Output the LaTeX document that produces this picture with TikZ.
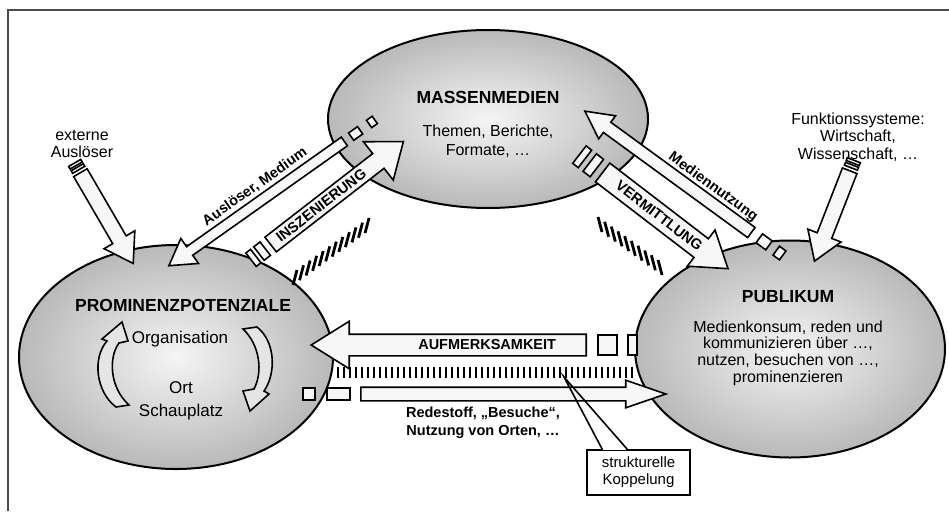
\documentclass[tikz,border=0pt]{standalone}
\usepackage{fontspec}
\setmainfont{Liberation Sans}
\usetikzlibrary{shapes}
\usetikzlibrary{calc}

\begin{document}
\begin{tikzpicture}[x=1pt,y=1pt,
	blob/.style={ellipse,draw,line width=2pt,inner color=gray!8,outer color=gray!55},
	blockarrow/.style={single arrow,draw,line width=1.6pt,fill=gray!6,inner xsep=0pt,anchor=tail},
	tailbox/.style={rectangle,draw,line width=1.6pt,fill=gray!6,inner sep=0pt},
	hatch/.style={line width=2.8pt},
	titletext/.style={font=\bfseries\fontsize{17.5}{20}\selectfont},
	bodytext/.style={font=\fontsize{16}{17.5}\selectfont,align=center},
	arrowtext/.style={font=\bfseries\fontsize{14.5}{18}\selectfont,inner sep=1pt}
	]
	\useasboundingbox (0,0) rectangle (949,-511);
	\draw[gray!60!black,line width=1.5pt] (8,-511) -- (8,-10) -- (949,-10);
	
	\node[blob,minimum width=320pt,minimum height=178pt] (medien) at (488,-119) {};
	\node[blob,minimum width=314pt,minimum height=224pt] (prom) at (176,-357) {};
	\node[blob,minimum width=310pt,minimum height=217pt] (publ) at (790,-349) {};
	
	\foreach \i in {0,...,49} \draw[hatch] (338+6*\i,-367) -- ++(0,-11);
	\foreach \i in {0,...,11} \draw[hatch] (293+6.55*\i,-285+4.73*\i) -- ++(4,15);
	\foreach \i in {0,...,9} \draw[hatch] (598+6.67*\i,-217-4.78*\i) -- ++(4,-15);
	
	\node[blockarrow,rotate=215.3,minimum height=215pt,inner ysep=4.5pt,single arrow head extend=10pt,single arrow tip angle=62] (aus) at (345,-141) {};
	\node[blockarrow,rotate=37.8,minimum height=168pt,inner ysep=8.5pt,single arrow head extend=15pt,single arrow tip angle=75] (insz) at (270,-245) {};
	\node[blockarrow,rotate=-37.5,minimum height=158pt,inner ysep=11pt,single arrow head extend=11pt,single arrow tip angle=68] (verm) at (602,-172) {};
	\node[blockarrow,rotate=143.9,minimum height=206pt,inner ysep=5.5pt,single arrow head extend=8pt,single arrow tip angle=55] (medn) at (752,-233) {};
	\node[blockarrow,rotate=180,minimum height=275pt,inner ysep=10pt,single arrow head extend=13pt,single arrow tip angle=64] (aufm) at (587,-345) {};
	\node[blockarrow,rotate=0,minimum height=305pt,inner ysep=6pt,single arrow head extend=7pt,single arrow tip angle=38] (rede) at (360,-394) {};
	\node[blockarrow,rotate=-59.8,minimum height=105pt,inner ysep=7pt,single arrow head extend=10pt,single arrow tip angle=66] (ext1) at (80,-172) {};
	\node[blockarrow,rotate=248.7,minimum height=97pt,inner ysep=7pt,single arrow head extend=10pt,single arrow tip angle=66] (ext2) at (850,-170) {};
	
	\node[tailbox,rotate=215.3,minimum width=11pt,minimum height=9pt] (aus1) at ($(aus.tail)!-13pt!(aus.tip)$) {};
	\node[tailbox,rotate=215.3,minimum width=7pt,minimum height=9pt] (aus2) at ($(aus.tail)!-33pt!(aus.tip)$) {};
	\node[tailbox,rotate=37.8,minimum width=8pt,minimum height=17pt] (insz1) at ($(insz.tail)!-10pt!(insz.tip)$) {};
	\node[tailbox,rotate=37.8,minimum width=6pt,minimum height=17pt] (insz2) at ($(insz.tail)!-21pt!(insz.tip)$) {};
	\node[tailbox,rotate=-37.5,minimum width=9pt,minimum height=22pt] (verm1) at ($(verm.tail)!-11pt!(verm.tip)$) {};
	\node[tailbox,rotate=-37.5,minimum width=7pt,minimum height=22pt] (verm2) at ($(verm.tail)!-25pt!(verm.tip)$) {};
	\node[tailbox,rotate=143.9,minimum width=12pt,minimum height=11pt] (medn1) at ($(medn.tail)!-15pt!(medn.tip)$) {};
	\node[tailbox,rotate=143.9,minimum width=8pt,minimum height=11pt] (medn2) at ($(medn.tail)!-34pt!(medn.tip)$) {};
	\node[tailbox,minimum width=19pt,minimum height=20pt] (aufm1) at ($(aufm.tail)!-20.5pt!(aufm.tip)$) {};
	\node[tailbox,minimum width=9pt,minimum height=20pt] (aufm2) at ($(aufm.tail)!-45.5pt!(aufm.tip)$) {};
	\node[tailbox,minimum width=23pt,minimum height=12pt] (rede1) at ($(rede.tail)!-21.5pt!(rede.tip)$) {};
	\node[tailbox,minimum width=12pt,minimum height=12pt] (rede2) at ($(rede.tail)!-51pt!(rede.tip)$) {};
	\node[tailbox,rotate=-59.8,minimum width=3pt,minimum height=14pt] (ext1a) at ($(ext1.tail)!-4pt!(ext1.tip)$) {};
	\node[tailbox,rotate=-59.8,minimum width=3pt,minimum height=14pt] (ext1b) at ($(ext1.tail)!-9pt!(ext1.tip)$) {};
	\node[tailbox,rotate=248.7,minimum width=3pt,minimum height=14pt] (ext2a) at ($(ext2.tail)!-4pt!(ext2.tip)$) {};
	\node[tailbox,rotate=248.7,minimum width=3pt,minimum height=14pt] (ext2b) at ($(ext2.tail)!-9pt!(ext2.tip)$) {};
	
	\coordinate (ausm) at ($(aus.tail)!0.46!(aus.tip)$);
	\coordinate (mednm) at ($(medn.tail)!0.28!(medn.tip)$);
	\node[arrowtext,rotate=35.3,anchor=south] (auslab) at ($(ausm)!7pt!-90:(aus.tip)$) {Auslöser, Medium};
	\node[arrowtext,rotate=-36.1,anchor=south] (mednlab) at ($(mednm)!6pt!-90:(medn.tip)$) {Mediennutzung};
	\node[arrowtext,rotate=37.8] (inszlab) at ($(insz.tail)!0.38!(insz.tip)$) {INSZENIERUNG};
	\node[arrowtext,rotate=-37.5] (vermlab) at ($(verm.tail)!0.45!(verm.tip)$) {VERMITTLUNG};
	\node[arrowtext] (aufmlab) at ($(aufm.tail)!0.36!(aufm.tip)$) {AUFMERKSAMKEIT};
	\node[arrowtext,align=center] (redelab) at (483,-423) {Redestoff, „Besuche“,\\Nutzung von Orten, …};
	
	\node[titletext] (medientitel) at (488,-97) {MASSENMEDIEN};
	\node[bodytext,font=\fontsize{16}{18.5}\selectfont] (medientext) at (488,-141) {Themen, Berichte,\\Formate, …};
	\node[titletext] (promtitel) at (183,-305) {PROMINENZPOTENZIALE};
	\node[bodytext,font=\fontsize{17}{19}\selectfont] (organ) at (180,-339) {Organisation};
	\node[bodytext,font=\fontsize{17}{23}\selectfont] (ort) at (181,-401) {Ort\\Schauplatz};
	\node[titletext] (publtitel) at (788,-297) {PUBLIKUM};
	\node[bodytext,font=\fontsize{16}{16.7}\selectfont] (publtext) at (788,-353) {Medienkonsum, reden und\\kommunizieren über …,\\nutzen, besuchen von …,\\prominenzieren};
	\node[bodytext] (extern) at (82,-144) {externe\\Auslöser};
	\node[bodytext] (funkt) at (858,-137) {Funktionssysteme:\\Wirtschaft,\\Wissenschaft, …};
	
	\filldraw[line width=1.6pt,fill=gray!20] (116,-407) .. controls (96,-392) and (92,-358) .. (107,-341) -- (102,-339) -- (122,-322) -- (128,-341) -- (119,-343) .. controls (108,-358) and (110,-388) .. (129,-405) -- cycle;
	\filldraw[line width=1.6pt,fill=gray!20] (243,-329) -- (257,-327) .. controls (276,-342) and (276,-374) .. (264,-391) -- (269,-394) -- (250,-411) -- (243,-391) -- (254,-389) .. controls (263,-372) and (260,-345) .. (243,-329) -- cycle;
	
	\node[draw,line width=1.6pt,fill=white,bodytext,font=\fontsize{15}{17}\selectfont,minimum width=103pt,minimum height=45pt] (koppl) at (638.5,-472.5) {strukturelle\\Koppelung};
	\coordinate (kopp) at (564,-377);
	\fill[white] ([xshift=17pt,yshift=-1.2pt]koppl.north west) rectangle ([xshift=40pt,yshift=1.2pt]koppl.north west);
	\draw[line width=1.6pt] ([xshift=16pt]koppl.north west) -- (kopp) -- ([xshift=41pt]koppl.north west);
\end{tikzpicture}
\end{document}
